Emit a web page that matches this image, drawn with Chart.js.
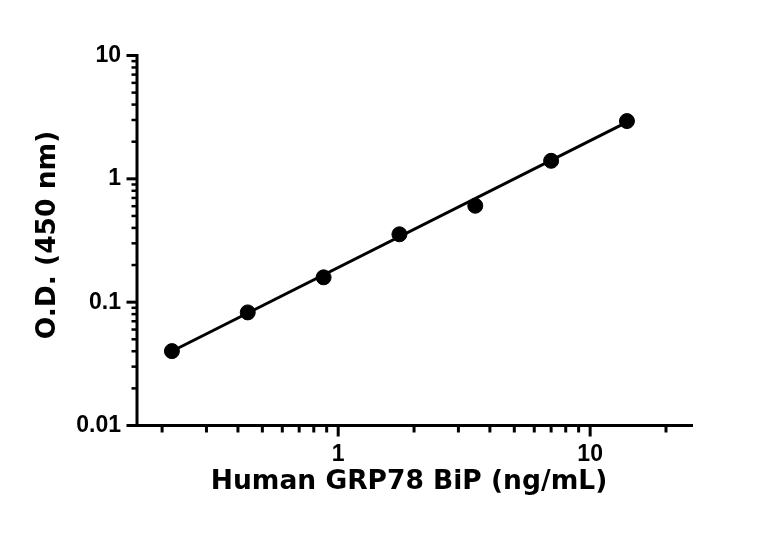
<!DOCTYPE html>
<html><head><meta charset="utf-8">
<style>html,body{margin:0;padding:0;background:#fff}</style>
<script src="https://cdn.jsdelivr.net/npm/chart.js@4.4.0/dist/chart.umd.min.js"></script>
</head><body>
<canvas id="c" width="768" height="541"></canvas>
<script>
// data
const concentration = [0.21875, 0.4375, 0.875, 1.75, 3.5, 7, 14];
const odValues      = [0.0401, 0.0826, 0.159, 0.355, 0.605, 1.40, 2.94];
const fitConcentration = [0.21875, 14];
const fitOD            = [0.0400, 2.88];

const xMajorTicks = [1, 10];
const xTickLabels = ['1', '10'];
const yMajorTicks = [0.01, 0.1, 1, 10];
const yTickLabels = ['0.01', '0.1', '1', '10'];
const xTitle = 'Human GRP78 BiP (ng/mL)';
const yTitle = 'O.D. (450 nm)';

const xMin = 0.159, xMax = 25.6, yMin = 0.01, yMax = 10;

function minorTicks(min, max) {
  const out = [];
  for (let d = -3; d <= 3; d++) {
    for (let m = 1; m <= 9; m++) {
      const v = m * Math.pow(10, d);
      if (v >= min * 1.0001 && v <= max * 0.9999) out.push(v);
    }
  }
  return out;
}

const tickFont = {family: '"Liberation Sans", Arial, sans-serif', weight: 'bold', size: 23};
const titleFontCss = 'bold 26.5px "DejaVu Sans", sans-serif';

const axesPlugin = {
  id: 'axesPlugin',
  beforeDatasetsDraw(chart) {
    const ctx = chart.ctx, xs = chart.scales.x, ys = chart.scales.y;
    const ca = chart.chartArea;
    ctx.save();
    ctx.strokeStyle = '#000';
    ctx.lineCap = 'butt';
    ctx.lineWidth = 3;
    ctx.beginPath();
    ctx.moveTo(ca.left, ca.top - 1.5);
    ctx.lineTo(ca.left, ca.bottom + 1.5);
    ctx.moveTo(ca.left - 1.5, ca.bottom);
    ctx.lineTo(ca.right, ca.bottom);
    ctx.stroke();
    minorTicks(xMin, xMax).forEach(v => {
      const major = xMajorTicks.includes(v);
      const px = xs.getPixelForValue(v);
      ctx.lineWidth = 3;
      ctx.beginPath();
      ctx.moveTo(px, ca.bottom);
      ctx.lineTo(px, ca.bottom + (major ? 11 : 7));
      ctx.stroke();
    });
    minorTicks(yMin / 1.001, yMax * 1.001).forEach(v => {
      const major = yMajorTicks.some(m => Math.abs(m - v) / m < 1e-6);
      const py = ys.getPixelForValue(v);
      ctx.lineWidth = major ? 3 : 2.5;
      ctx.beginPath();
      ctx.moveTo(ca.left, py);
      ctx.lineTo(ca.left - (major ? 10.5 : 5.5), py);
      ctx.stroke();
    });
    ctx.restore();
  },
  afterDraw(chart) {
    const ctx = chart.ctx;
    ctx.save();
    ctx.fillStyle = '#000';
    ctx.font = titleFontCss;
    ctx.textAlign = 'center';
    ctx.textBaseline = 'middle';
    ctx.fillText(xTitle, 409, 482);
    ctx.translate(48, 235);
    ctx.rotate(-Math.PI / 2);
    ctx.fillText(yTitle, 0, 0);
    ctx.restore();
  }
};

new Chart(document.getElementById('c'), {
  data: {
    datasets: [
      {
        type: 'line',
        data: fitConcentration.map((x, i) => ({x, y: fitOD[i]})),
        borderColor: '#000',
        borderWidth: 3,
        pointRadius: 0,
        fill: false,
        tension: 0
      },
      {
        type: 'scatter',
        data: concentration.map((x, i) => ({x, y: odValues[i]})),
        backgroundColor: '#000',
        borderColor: '#000',
        pointRadius: 7.5,
        pointHoverRadius: 7.5
      }
    ]
  },
  options: {
    responsive: false,
    animation: false,
    devicePixelRatio: 1,
    layout: {padding: {left: 0, top: 55.5, right: 75, bottom: 0}},
    plugins: {legend: {display: false}, tooltip: {enabled: false}},
    scales: {
      x: {
        type: 'logarithmic',
        min: xMin, max: xMax,
        grid: {display: false, drawTicks: false},
        border: {display: false},
        afterBuildTicks: s => { s.ticks = xMajorTicks.map(v => ({value: v})); },
        afterFit: s => { s.height = 541 - 425.5; },
        ticks: {
          autoSkip: false, maxRotation: 0, padding: 15, color: '#000', font: tickFont,
          callback: (v) => { const i = xMajorTicks.indexOf(v); return i >= 0 ? xTickLabels[i] : ''; }
        },
        title: {display: false}
      },
      y: {
        type: 'logarithmic',
        min: yMin, max: yMax,
        grid: {display: false, drawTicks: false},
        border: {display: false},
        afterBuildTicks: s => { s.ticks = yMajorTicks.map(v => ({value: v})); },
        afterFit: s => { s.width = 137; },
        ticks: {
          autoSkip: false, padding: 16, color: '#000', font: tickFont,
          callback: (v) => { const i = yMajorTicks.findIndex(m => Math.abs(m - v) / m < 1e-6); return i >= 0 ? yTickLabels[i] : ''; }
        },
        title: {display: false}
      }
    }
  },
  plugins: [axesPlugin]
});
</script>
</body></html>
